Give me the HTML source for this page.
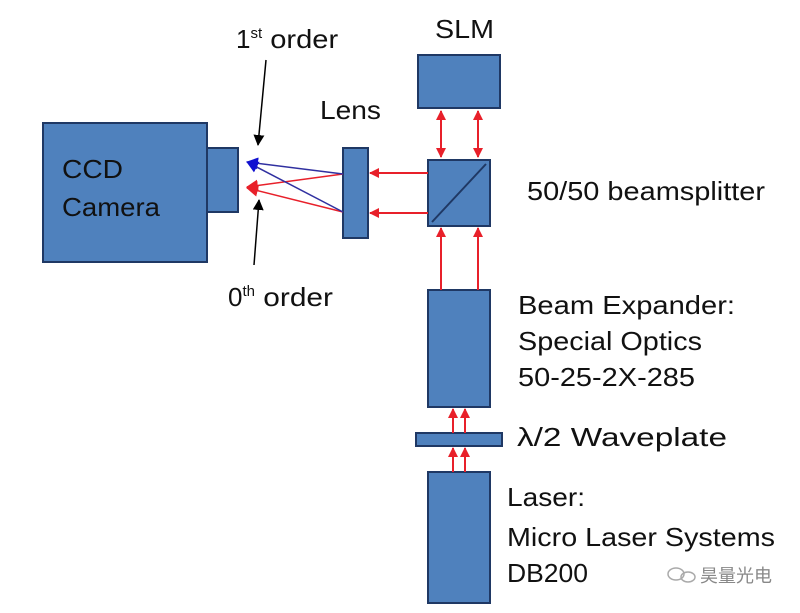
<!DOCTYPE html>
<html><head><meta charset="utf-8"><style>
body{margin:0;background:#fff;}
svg{display:block;font-family:"Liberation Sans",Arial,sans-serif;}
</style></head><body>
<svg width="800" height="613" viewBox="0 0 800 613" xmlns="http://www.w3.org/2000/svg">
<defs>
<marker id="r" markerWidth="10" markerHeight="10" refX="9" refY="5" orient="auto" markerUnits="userSpaceOnUse"><path d="M0,0 L10,5 L0,10 z" fill="#e8202a"/></marker>
<marker id="rs" markerWidth="10" markerHeight="10" refX="1" refY="5" orient="auto" markerUnits="userSpaceOnUse"><path d="M10,0 L0,5 L10,10 z" fill="#e8202a"/></marker>
<marker id="b" markerWidth="12" markerHeight="12" refX="11" refY="6" orient="auto" markerUnits="userSpaceOnUse"><path d="M0,0 L12,6 L0,12 z" fill="#1010d0"/></marker>
<marker id="rr" markerWidth="12" markerHeight="12" refX="11" refY="6" orient="auto" markerUnits="userSpaceOnUse"><path d="M0,0 L12,6 L0,12 z" fill="#e8202a"/></marker>
<marker id="k" markerWidth="11" markerHeight="11" refX="10" refY="5.5" orient="auto" markerUnits="userSpaceOnUse"><path d="M0,0 L11,5.5 L0,11 z" fill="#000"/></marker>
</defs>
<g fill="#4f81bd" stroke="#1f3864" stroke-width="2">
<rect x="43" y="123" width="164" height="139"/>
<rect x="207" y="148" width="31" height="64"/>
<rect x="343" y="148" width="25" height="90"/>
<rect x="428" y="160" width="62" height="66"/>
<rect x="418" y="55" width="82" height="53"/>
<rect x="428" y="290" width="62" height="117"/>
<rect x="416" y="433" width="86" height="13"/>
<rect x="428" y="472" width="62" height="131"/>
</g>
<line x1="432" y1="222" x2="486" y2="164" stroke="#1f3864" stroke-width="2"/>
<g stroke="#e8202a" stroke-width="2" fill="none">
<line x1="441" y1="111" x2="441" y2="157" marker-start="url(#rs)" marker-end="url(#r)"/>
<line x1="478" y1="111" x2="478" y2="157" marker-start="url(#rs)" marker-end="url(#r)"/>
<line x1="441" y1="290" x2="441" y2="228" marker-end="url(#r)"/>
<line x1="478" y1="290" x2="478" y2="228" marker-end="url(#r)"/>
<line x1="428" y1="173" x2="370" y2="173" marker-end="url(#r)"/>
<line x1="428" y1="213" x2="370" y2="213" marker-end="url(#r)"/>
<line x1="453" y1="433" x2="453" y2="409" marker-end="url(#r)"/>
<line x1="465" y1="433" x2="465" y2="409" marker-end="url(#r)"/>
<line x1="453" y1="472" x2="453" y2="448" marker-end="url(#r)"/>
<line x1="465" y1="472" x2="465" y2="448" marker-end="url(#r)"/>
<line x1="343" y1="174" x2="247" y2="187" stroke-width="1.5" marker-end="url(#rr)"/>
<line x1="343" y1="212" x2="247" y2="188" stroke-width="1.5" marker-end="url(#rr)"/>
</g>
<g stroke="#3030a0" stroke-width="1.5">
<line x1="343" y1="174" x2="247" y2="162" marker-end="url(#b)"/>
<line x1="343" y1="212" x2="247" y2="162" marker-end="url(#b)"/>
</g>
<g stroke="#000" stroke-width="1.5">
<line x1="266" y1="60" x2="258" y2="145" marker-end="url(#k)"/>
<line x1="254" y1="265" x2="259" y2="200" marker-end="url(#k)"/>
</g>
<g font-size="26" fill="#111">
<text x="62" y="178" textLength="61" lengthAdjust="spacingAndGlyphs">CCD</text>
<text x="62" y="216" textLength="98" lengthAdjust="spacingAndGlyphs">Camera</text>
<text x="236" y="48">1<tspan font-size="15" dy="-10">st</tspan><tspan dy="10" textLength="76" lengthAdjust="spacingAndGlyphs"> order</tspan></text>
<text x="228" y="306">0<tspan font-size="15" dy="-10">th</tspan><tspan dy="10" textLength="78" lengthAdjust="spacingAndGlyphs"> order</tspan></text>
<text x="320" y="119" textLength="61" lengthAdjust="spacingAndGlyphs">Lens</text>
<text x="435" y="38" textLength="59" lengthAdjust="spacingAndGlyphs">SLM</text>
<text x="527" y="200" textLength="238" lengthAdjust="spacingAndGlyphs">50/50 beamsplitter</text>
<text x="518" y="314" textLength="217" lengthAdjust="spacingAndGlyphs">Beam Expander:</text>
<text x="518" y="350" textLength="184" lengthAdjust="spacingAndGlyphs">Special Optics</text>
<text x="518" y="386" textLength="177" lengthAdjust="spacingAndGlyphs">50-25-2X-285</text>
<text x="517" y="446" textLength="210" lengthAdjust="spacingAndGlyphs">λ/2 Waveplate</text>
<text x="507" y="506" textLength="78" lengthAdjust="spacingAndGlyphs">Laser:</text>
<text x="507" y="546" textLength="268" lengthAdjust="spacingAndGlyphs">Micro Laser Systems</text>
<text x="507" y="582" textLength="81" lengthAdjust="spacingAndGlyphs">DB200</text>
<text x="700" y="582" font-size="18" fill="#888" font-family="'Noto Sans CJK SC',sans-serif">昊量光电</text>
</g>
<g fill="none" stroke="#aaa" stroke-width="1.5"><ellipse cx="676" cy="574" rx="8" ry="6"/><ellipse cx="688" cy="577" rx="7" ry="5"/></g>
</svg>
</body></html>
